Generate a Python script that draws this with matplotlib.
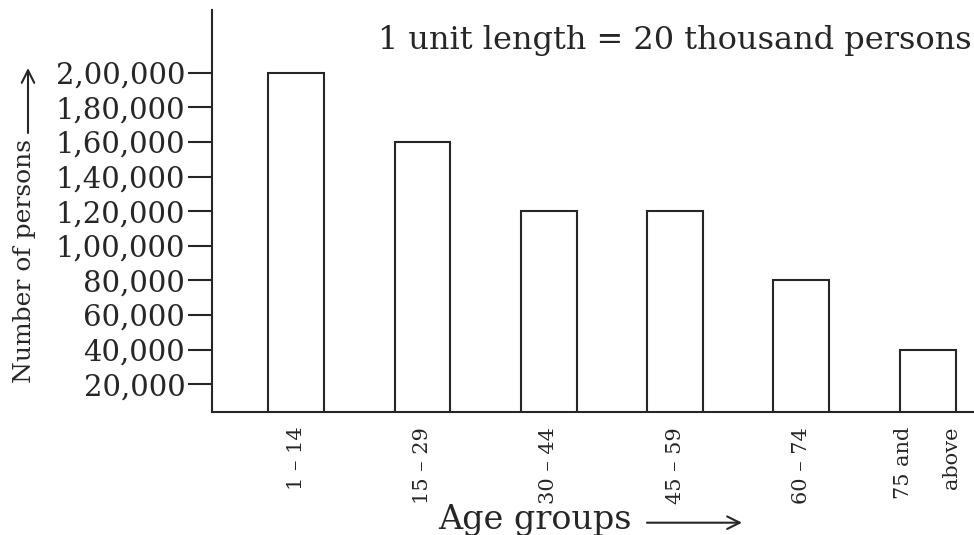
import matplotlib
matplotlib.use("Agg")
import matplotlib.pyplot as plt

# ---- data ----
age_groups = ["1 – 14", "15 – 29", "30 – 44", "45 – 59", "60 – 74", "75 and\nabove"]
persons = [200000, 160000, 120000, 120000, 80000, 40000]
ytick_values = [20000, 40000, 60000, 80000, 100000, 120000, 140000, 160000, 180000, 200000]
ytick_labels = ["20,000", "40,000", "60,000", "80,000", "1,00,000", "1,20,000",
                "1,40,000", "1,60,000", "1,80,000", "2,00,000"]
title_text = "1 unit length = 20 thousand persons"
ylabel_text = "Number of persons"
xlabel_text = "Age groups"

INK = "#262626"
W, H = 974, 535
fig = plt.figure(figsize=(W / 100, H / 100), dpi=100)
ax = fig.add_axes([211.7 / W, 1 - 411.5 / H, (972.7 - 211.7) / W, (411.5 - 10) / H])

x = list(range(len(age_groups)))
ax.bar(x, persons, width=0.443, facecolor="white", edgecolor=INK, linewidth=1.5)

ax.set_xlim(-0.669, 5.356)
ax.set_ylim(4300, 236200)

for s in ["top", "right"]:
    ax.spines[s].set_visible(False)
for s in ["left", "bottom"]:
    ax.spines[s].set_linewidth(1.5)
    ax.spines[s].set_color(INK)

ax.set_yticks(ytick_values)
ax.set_yticklabels(ytick_labels, family="DejaVu Serif", fontsize=21, color=INK)
ax.tick_params(axis="y", length=17, width=1.5, color=INK, pad=2)

ax.set_xticks(x)
ax.set_xticklabels(age_groups, family="DejaVu Serif", fontsize=15, color=INK,
                   rotation=90, va="top", ha="center", multialignment="right",
                   linespacing=2.9)
ax.tick_params(axis="x", length=0, pad=11)

fig.text(378 / W, 1 - 40 / H, title_text, family="DejaVu Serif", fontsize=23,
         color=INK, ha="left", va="center")

fig.text(25 / W, 1 - 261 / H, ylabel_text, family="DejaVu Serif", fontsize=18,
         color=INK, rotation=90, ha="center", va="center")
fig.text(535 / W, 1 - 520 / H, xlabel_text, family="DejaVu Serif", fontsize=24,
         color=INK, ha="center", va="center")

ax.annotate("", xy=(28, H - 68), xytext=(28, H - 133), xycoords="figure pixels",
            textcoords="figure pixels",
            arrowprops=dict(arrowstyle="->,head_length=0.9,head_width=0.45",
                            color=INK, lw=1.5, shrinkA=0, shrinkB=0))
ax.annotate("", xy=(742, H - 522.7), xytext=(647, H - 522.7), xycoords="figure pixels",
            textcoords="figure pixels",
            arrowprops=dict(arrowstyle="->,head_length=0.9,head_width=0.45",
                            color=INK, lw=1.5, shrinkA=0, shrinkB=0))

fig.savefig("out.png", dpi=100)
